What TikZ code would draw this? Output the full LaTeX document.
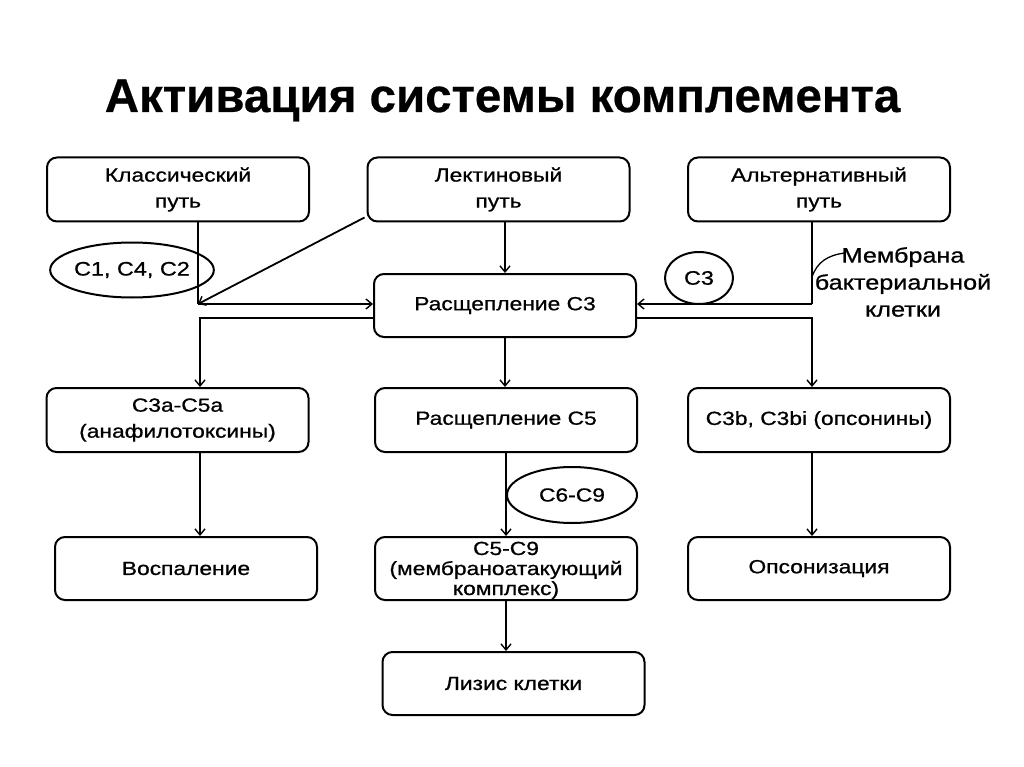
\documentclass[tikz,border=0pt]{standalone}
\usepackage{fontspec}
\setmainfont{Liberation Sans}
\newfontfamily\boxfont[FakeStretch=1.2,FakeBold=0.8]{Liberation Sans}
\newfontfamily\titlefont[FakeBold=0.5]{Liberation Sans Bold}
\usetikzlibrary{arrows.meta,shapes.geometric,calc}
\tikzset{
  every picture/.style={x=1pt,y=-1pt},
  box/.style={draw, line width=2pt, rounded corners=10pt, minimum width=262pt, minimum height=64pt, inner sep=0pt, align=center, font=\boxfont\fontsize{19}{26}\selectfont},
  oval/.style={draw, line width=2pt, ellipse, inner sep=0pt, font=\boxfont\fontsize{19.5}{24}\selectfont},
  conn/.style={line width=1.8pt},
  arr/.style={conn, -{Straight Barb[length=6pt,width=10pt,line width=1.4pt]}},
}
\begin{document}
\begin{tikzpicture}
\useasboundingbox (0,0) rectangle (1024,767);
\fill[white] (0,0) rectangle (1024,767);
\node[anchor=base, font=\titlefont\fontsize{47.5}{57}\selectfont] (title) at (502.5,112) {Активация системы комплемента};

\node[box] (cls) at (178,189.5) {Классический\\путь};
\node[box] (lec) at (498.5,189.5) {Лектиновый\\путь};
\node[box] (alt) at (819,189.5) {Альтернативный\\путь};
\node[box, minimum height=63pt] (c3) at (505,305.5) {Расщепление С3};
\node[box] (c3a) at (177.5,420) {С3а-С5а\\(анафилотоксины)};
\node[box] (c5) at (506,420) {Расщепление С5};
\node[box] (c3b) at (819,420) {С3b, С3bi (опсонины)};
\node[box, minimum height=63pt] (vosp) at (186,568.5) {Воспаление};
\node[box, minimum height=63pt] (mac) at (506,568.5) {};
\node[align=center, font=\boxfont\fontsize{19}{20}\selectfont, anchor=base] (mactext) at (506,595) {С5-С9\\(мембраноатакующий\\комплекс)};
\node[box, minimum height=63pt] (ops) at (819,568.5) {Опсонизация};
\node[box, minimum height=63pt] (lys) at (513.5,683.5) {Лизис клетки};

\node[oval, minimum width=132pt, minimum height=55pt] (e1) at (132,270) {С1, С4, С2};
\node[oval, minimum width=68pt, minimum height=52pt] (e2) at (699,278) {С3};
\node[oval, minimum width=130pt, minimum height=56pt, font=\boxfont\fontsize{19}{24}\selectfont] (e3) at (572,495) {С6-С9};

\node[align=center, font=\boxfont\fontsize{21}{27}\selectfont] (mem) at (903,282) {Мембрана\\бактериальной\\клетки};

\coordinate (j1) at (198,304);
\coordinate (j2) at (812,304);
\coordinate (j3) at (200,318);
\coordinate (j4) at (812,318);
\coordinate (m1) at (812,277);
\coordinate (m2) at (845,253);

\draw[conn] (j1 |- cls.south) -- (j1);
\draw[arr] (j1) -- (j1 -| c3.west);
\draw[arr] ($(lec.south west)+(-2,-5)$) -- (j1);
\draw[arr] (c3.north |- lec.south) -- (c3.north);
\draw[conn] (j2 |- alt.south) -- (j2);
\draw[arr] (j2) -- (j2 -| c3.east);
\draw[arr] (j3 -| c3.west) -- (j3) -- (j3 |- c3a.north);
\draw[arr] (j4 -| c3.east) -- (j4) -- (j4 |- c3b.north);
\draw[arr] (c3.south) -- (c3.south |- c5.north);
\draw[arr] (j3 |- c3a.south) -- (j3 |- vosp.north);
\draw[arr] (c5.south) -- (mac.north);
\draw[arr] (j4 |- c3b.south) -- (j4 |- ops.north);
\draw[arr] (mac.south) -- (mac.south |- lys.north);
\draw[conn, line width=1.3pt] (m1) .. controls (817,262) and (828,255) .. (m2);
\end{tikzpicture}
\end{document}
